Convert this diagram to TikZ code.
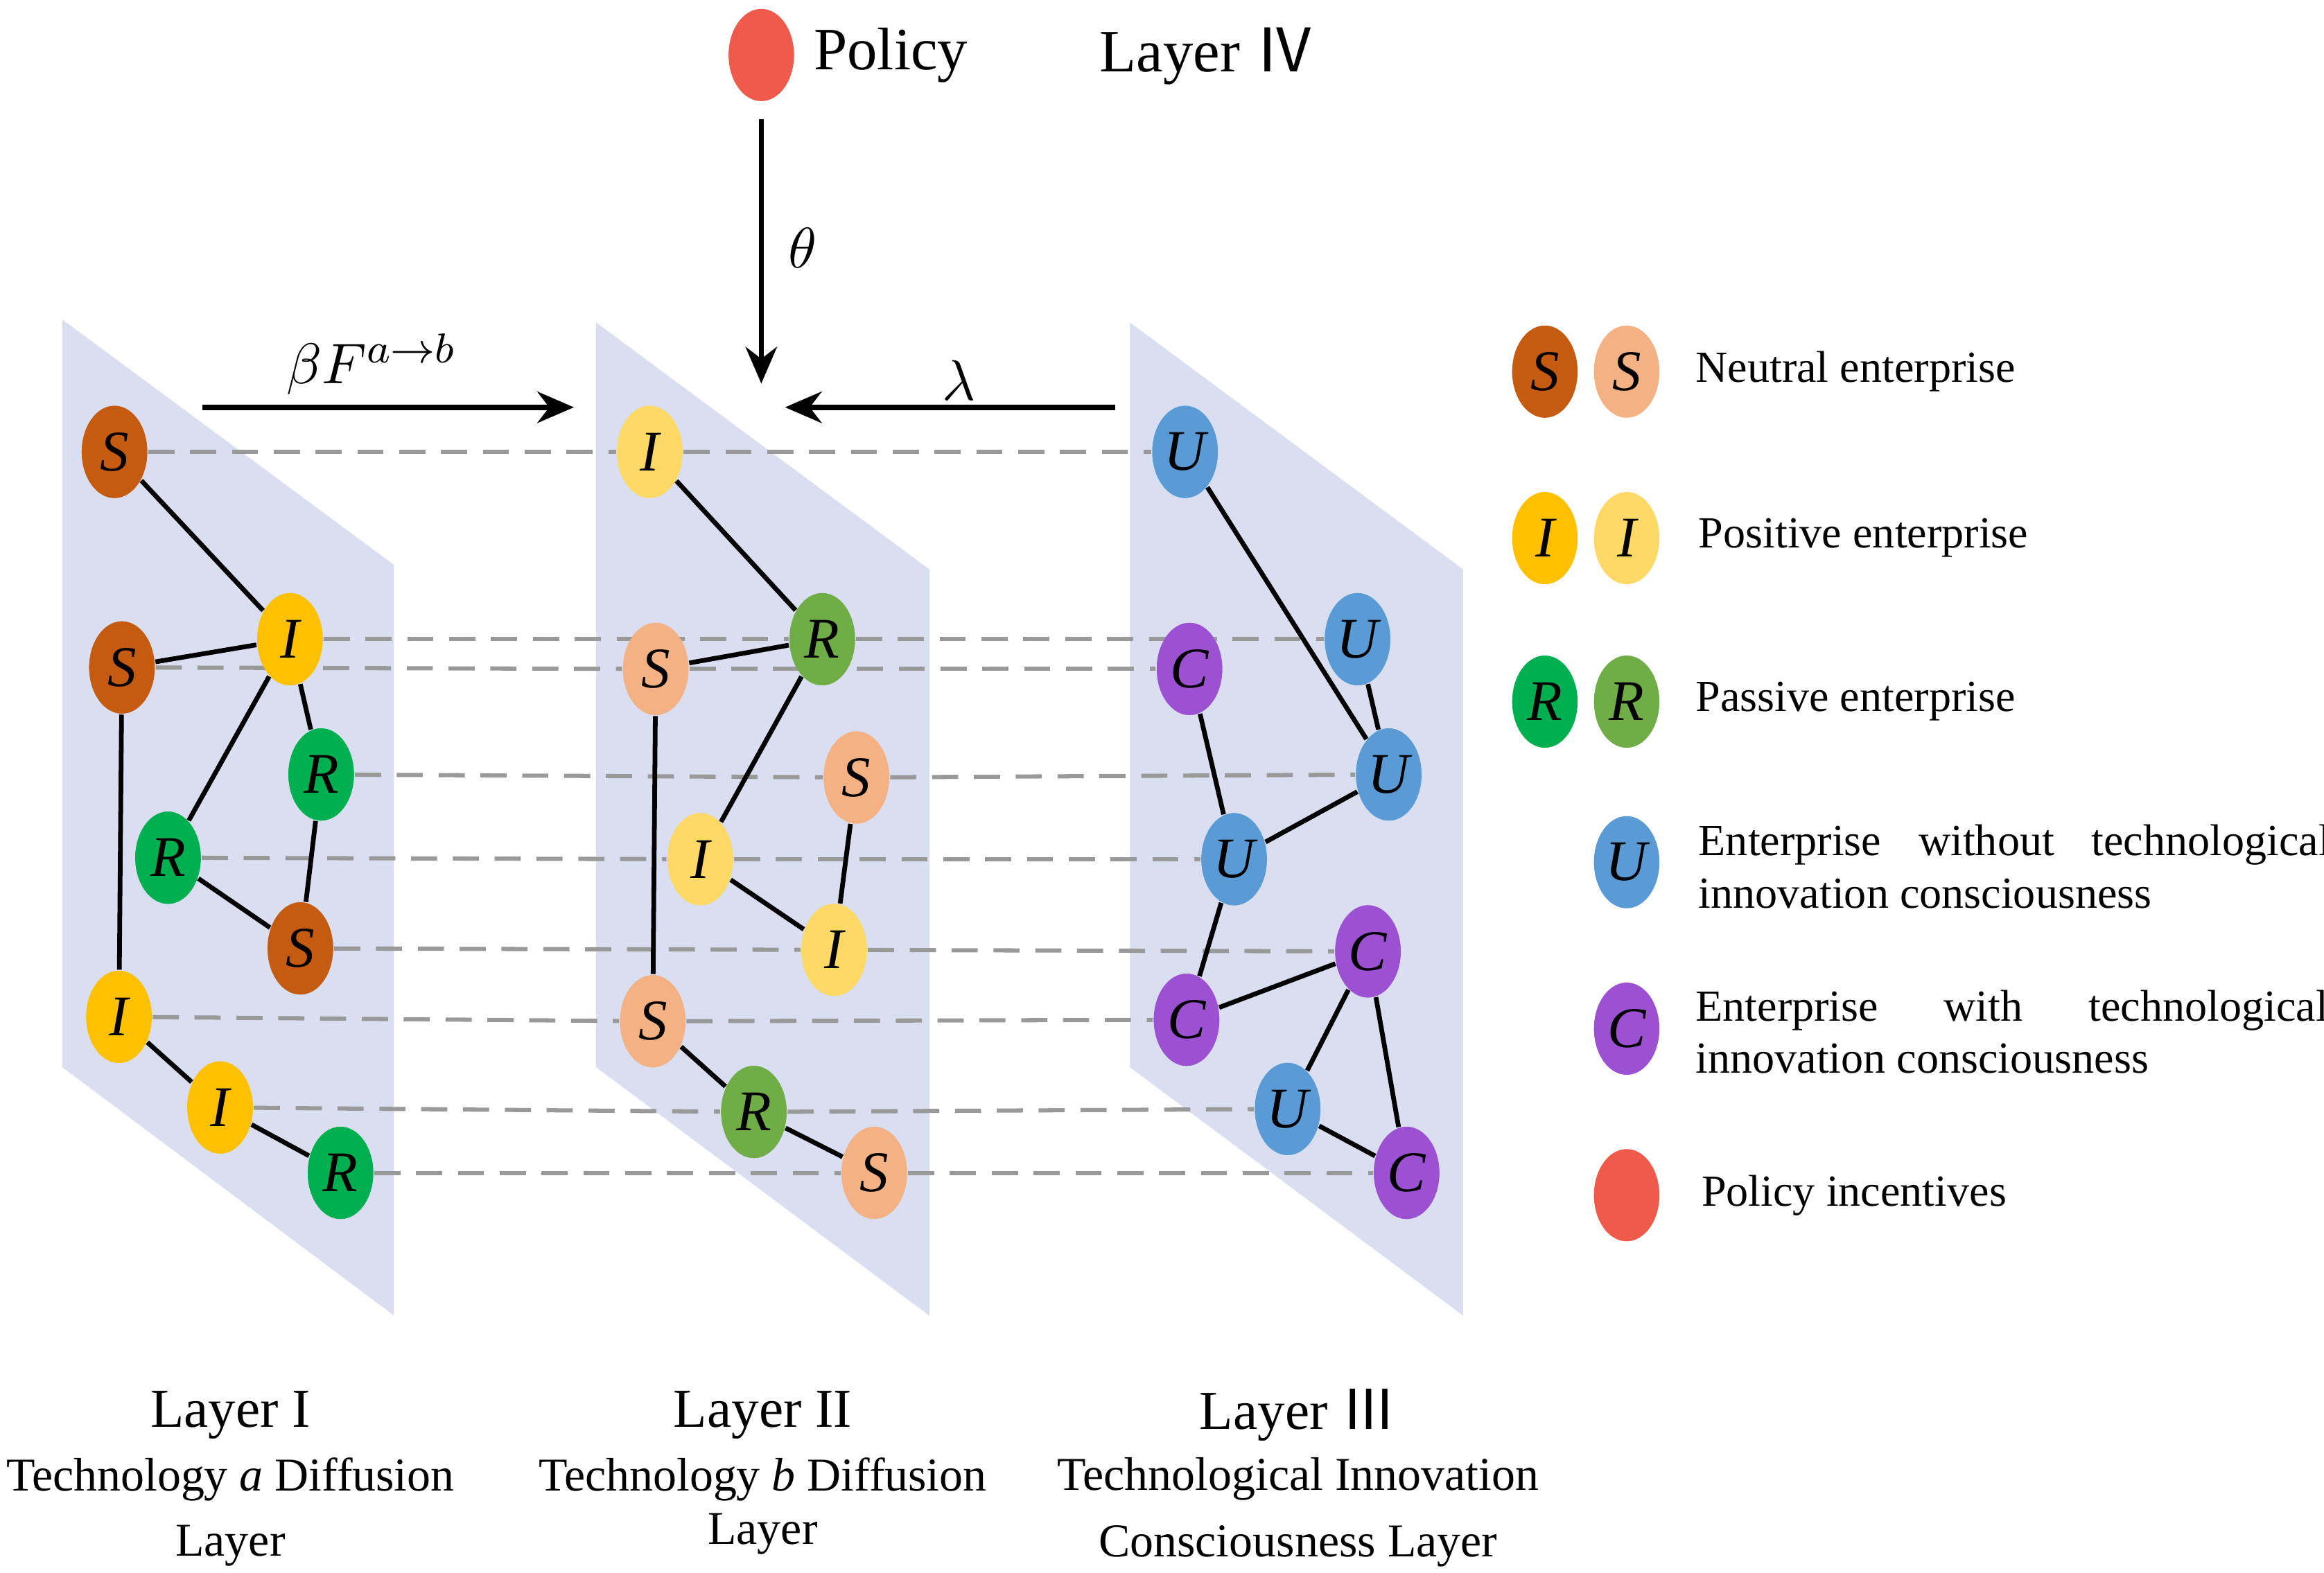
\documentclass[tikz,border=0pt]{standalone}
\usepackage{fontspec}
\setmainfont{Liberation Serif}
\newfontfamily\cjk{Noto Sans CJK SC}
\usetikzlibrary{shapes.geometric,arrows.meta}
\definecolor{plane}{HTML}{D9DFF0}
\definecolor{sD}{HTML}{C55A11}\definecolor{sL}{HTML}{F4B183}
\definecolor{iD}{HTML}{FFC000}\definecolor{iL}{HTML}{FFD966}
\definecolor{rD}{HTML}{00B050}\definecolor{rL}{HTML}{70AD47}
\definecolor{uC}{HTML}{5B9BD5}\definecolor{cC}{HTML}{9B51D1}
\definecolor{pC}{HTML}{F05A4A}
\begin{document}
\begin{tikzpicture}[x=0.01cm,y=-0.01cm,
 nd/.style={ellipse,draw=none,minimum width=0.44cm,minimum height=0.62cm,inner sep=0pt,font=\fontsize{11}{11}\selectfont\itshape},
 ed/.style={black,line width=0.9pt},
 dsh/.style={gray!80,dashed,line width=0.8pt,dash pattern=on 5pt off 3pt},
 ar/.style={-{Stealth[length=7pt,width=6pt]},line width=1pt},
 pl/.style={fill=plane,draw=none},
 lg/.style={anchor=west,font=\fontsize{8.5}{10}\selectfont},
 bl/.style={font=\fontsize{10.5}{12}\selectfont},
 bs/.style={font=\fontsize{9}{11}\selectfont}]
\useasboundingbox (0,0) rectangle (1563,1058);
\fill[pl] (42,215)--(265,380)--(265,885)--(42,718)--cycle;
\fill[pl] (401,217)--(625,383)--(625,885)--(401,718)--cycle;
\fill[pl] (760,217)--(984,383)--(984,885)--(760,718)--cycle;
% layer I
\node[nd,fill=sD] (a1) at (77,304) {S};
\node[nd,fill=iD] (a2) at (195,430) {I};
\node[nd,fill=sD] (a3) at (82,449) {S};
\node[nd,fill=rD] (a4) at (216,521) {R};
\node[nd,fill=rD] (a5) at (113,577) {R};
\node[nd,fill=sD] (a6) at (202,638) {S};
\node[nd,fill=iD] (a7) at (80,684) {I};
\node[nd,fill=iD] (a8) at (148,745) {I};
\node[nd,fill=rD] (a9) at (229,789) {R};
% layer II
\node[nd,fill=iL] (b1) at (437,304) {I};
\node[nd,fill=rL] (b2) at (553,430) {R};
\node[nd,fill=sL] (b3) at (441,450) {S};
\node[nd,fill=sL] (b4) at (576,523) {S};
\node[nd,fill=iL] (b5) at (471,578) {I};
\node[nd,fill=iL] (b6) at (561,639) {I};
\node[nd,fill=sL] (b7) at (439,687) {S};
\node[nd,fill=rL] (b8) at (507,748) {R};
\node[nd,fill=sL] (b9) at (588,789) {S};
% layer III
\node[nd,fill=uC] (c1) at (797,304) {U};
\node[nd,fill=uC] (c2) at (913,430) {U};
\node[nd,fill=cC] (c3) at (800,450) {C};
\node[nd,fill=uC] (c4) at (934,521) {U};
\node[nd,fill=uC] (c5) at (830,578) {U};
\node[nd,fill=cC] (c6) at (920,640) {C};
\node[nd,fill=cC] (c7) at (798,686) {C};
\node[nd,fill=uC] (c8) at (866,746) {U};
\node[nd,fill=cC] (c9) at (946,789) {C};
\begin{scope}[on background layer/.style={}]
\end{scope}
% dashed links (drawn, nodes re-drawn after)
\foreach \p/\q in {a1/b1,b1/c1,a2/b2,b2/c2,a3/b3,b3/c3,a4/b4,b4/c4,a5/b5,b5/c5,a6/b6,b6/c6,a7/b7,b7/c7,a8/b8,b8/c8,a9/b9,b9/c9}
  \draw[dsh] (\p) -- (\q);
% edges
\draw[ed] (a1)--(a2) (a3)--(a2) (a2)--(a5) (a2)--(a4) (a4)--(a6) (a5)--(a6) (a3)--(a7) (a7)--(a8) (a8)--(a9);
\draw[ed] (b1)--(b2) (b3)--(b2) (b2)--(b5) (b4)--(b6) (b5)--(b6) (b3)--(b7) (b7)--(b8) (b8)--(b9);
\draw[ed] (c1)--(c4) (c2)--(c4) (c3)--(c5) (c5)--(c4) (c5)--(c7) (c7)--(c6) (c6)--(c8) (c6)--(c9) (c8)--(c9);
% top
\node[nd,fill=pC] (pol) at (512,37) {};
\node[anchor=west,bl,font=\fontsize{11.5}{12}\selectfont] (polt) at (535,37) {Policy};
\node[bl,font=\fontsize{11.5}{12}\selectfont] (l4) at (812,38) {Layer {\cjk Ⅳ}};
\coordinate (tgt) at (512,258);
\draw[ar] (512,80) -- (tgt);
\node[font=\fontsize{11}{11}\selectfont\itshape] at (540,167) {$\theta$};
\coordinate (a0) at (136,274); \coordinate (a0e) at (386,274);
\draw[ar] (a0) -- (a0e);
\node[font=\fontsize{11}{11}\selectfont] at (250,245) {$\beta F^{a\rightarrow b}$};
\coordinate (l0) at (750,274); \coordinate (l0e) at (528,274);
\draw[ar] (l0) -- (l0e);
\node[font=\fontsize{11}{11}\selectfont] at (645,256) {$\lambda$};
% legend
\node[nd,fill=sD] (g1) at (1039,250) {S}; \node[nd,fill=sL] (g2) at (1094,250) {S};
\node[lg] at (1128,250) {Neutral enterprise};
\node[nd,fill=iD] (g3) at (1039,362) {I}; \node[nd,fill=iL] (g4) at (1094,362) {I};
\node[lg] at (1130,362) {Positive enterprise};
\node[nd,fill=rD] (g5) at (1039,472) {R}; \node[nd,fill=rL] (g6) at (1094,472) {R};
\node[lg] at (1128,472) {Passive enterprise};
\node[nd,fill=uC] (g7) at (1094,580) {U};
\node[lg,text width=4.25cm,align=justify] at (1130,583) {Enterprise\hfill without\hfill technological\\ innovation consciousness};
\node[nd,fill=cC] (g8) at (1094,692) {C};
\node[lg,text width=4.25cm,align=justify] at (1128,694) {Enterprise\hfill with\hfill technological\\ innovation consciousness};
\node[nd,fill=pC] (g9) at (1094,804) {};
\node[lg] at (1132,804) {Policy incentives};
% bottom
\node[bl] at (155,952) {Layer I};
\node[bs] at (155,995) {Technology \textit{a} Diffusion};
\node[bs] at (155,1040) {Layer};
\node[bl] at (513,952) {Layer II};
\node[bs] at (513,995) {Technology \textit{b} Diffusion};
\node[bs] at (513,1032) {Layer};
\node[bl] at (873,952) {Layer {\cjk Ⅲ}};
\node[bs] at (873,995) {Technological Innovation};
\node[bs] at (873,1040) {Consciousness Layer};
% redraw nodes on top of dashes
\foreach \n/\c/\t in {a1/sD/S,a2/iD/I,a3/sD/S,a4/rD/R,a5/rD/R,a6/sD/S,a7/iD/I,a8/iD/I,a9/rD/R,b1/iL/I,b2/rL/R,b3/sL/S,b4/sL/S,b5/iL/I,b6/iL/I,b7/sL/S,b8/rL/R,b9/sL/S,c1/uC/U,c2/uC/U,c3/cC/C,c4/uC/U,c5/uC/U,c6/cC/C,c7/cC/C,c8/uC/U,c9/cC/C}
  \node[nd,fill=\c] at (\n.center) {\t};
\end{tikzpicture}
\end{document}
